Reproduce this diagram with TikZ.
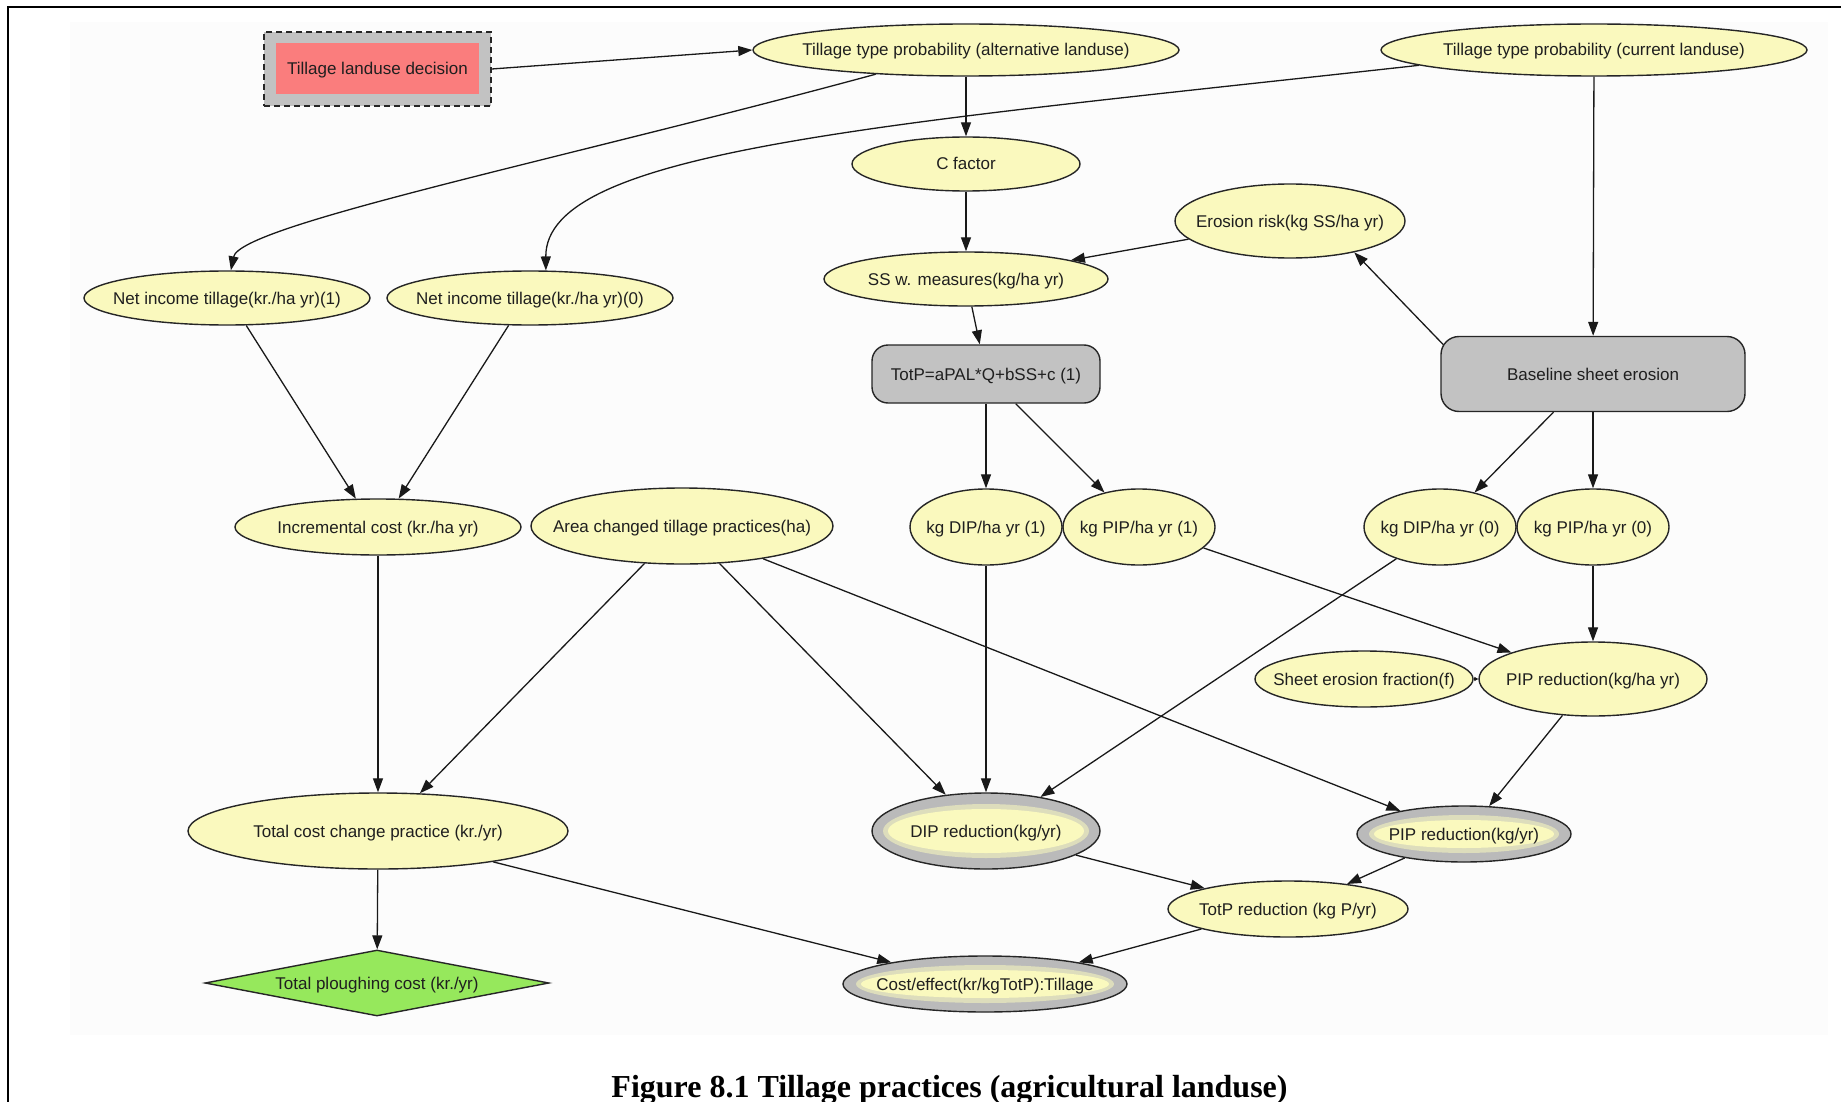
\documentclass[tikz,border=0pt]{standalone}
\usepackage{fontspec}
\setmainfont{Liberation Sans}
\newfontfamily\capfont{Liberation Serif}
\usetikzlibrary{arrows.meta,shapes.geometric,backgrounds}

\definecolor{nodeyellow}{RGB}{250,249,190}
\definecolor{boxgray}{RGB}{194,194,194}
\definecolor{ringgray}{RGB}{186,186,186}
\definecolor{decisionred}{RGB}{250,125,125}
\definecolor{utilgreen}{RGB}{150,232,92}
\definecolor{backdrop}{RGB}{252,252,252}

% zero-width label so the text never enlarges a shape
\newcommand\lab[1]{\makebox[0pt]{#1}}

\tikzset{
  lbl/.style={font=\fontsize{17}{20}\selectfont, text=black!88, text height=12pt, text depth=0pt},
  chance/.style={ellipse, draw=black!85, line width=1.4pt, fill=nodeyellow, inner sep=0pt, lbl},
  dims/.style 2 args={minimum width=#1pt, minimum height=#2pt},
  calcbox/.style={rectangle, draw=black!85, line width=1.4pt, fill=boxgray, inner sep=0pt, lbl},
  doubleoval/.style 2 args={chance, fill=ringgray,
    path picture={
      \fill[nodeyellow!55!ringgray] (path picture bounding box.center) ellipse [x radius=#1pt+5pt, y radius=#2pt+5pt];
      \fill[nodeyellow] (path picture bounding box.center) ellipse [x radius=#1pt, y radius=#2pt];}},
  link/.style={-{Triangle[length=14pt,width=10pt]}, line width=1.3pt, draw=black!90},
  tinylink/.style={-{Triangle[length=4pt,width=4pt]}, line width=1.2pt, draw=black!90},
}

\begin{document}
\begin{tikzpicture}[x=1pt, y=-1pt]
\useasboundingbox (0,0) rectangle (1841,1102);

% decision node
\node[rectangle, draw=black!85, line width=1.4pt, dash pattern=on 6pt off 4pt, fill=boxgray, dims={227}{74}] (tld) at (377.5,69) {};
\node[rectangle, fill=decisionred, inner sep=0pt, dims={203}{51}, lbl] (tldin) at (tld.center) {\lab{Tillage landuse decision}};

% chance nodes
\node[chance, dims={426}{52}] (ttpa) at (966,50) {\lab{Tillage type probability (alternative landuse)}};
\node[chance, dims={426}{52}] (ttpc) at (1594,50) {\lab{Tillage type probability (current landuse)}};
\node[chance, dims={228}{54}] (cf) at (966,164) {\lab{C factor}};
\node[chance, dims={230}{74}] (er) at (1290,221) {\lab{Erosion risk(kg SS/ha yr)}};
\node[chance, dims={284}{54}] (ss) at (966,279) {\lab{SS w. measures(kg/ha yr)}};
\node[chance, dims={286}{54}] (ni1) at (227,298) {\lab{Net income tillage(kr./ha yr)(1)}};
\node[chance, dims={286}{54}] (ni0) at (530,298) {\lab{Net income tillage(kr./ha yr)(0)}};

% calculation boxes
\node[calcbox, rounded corners=16pt, dims={228}{58}] (totp) at (986,374) {\lab{TotP=aPAL*Q+bSS+c (1)}};
\node[calcbox, rounded corners=18pt, dims={304}{75}] (base) at (1593,374) {\lab{Baseline sheet erosion}};

\node[chance, dims={286}{56}] (ic) at (378,527) {\lab{Incremental cost (kr./ha yr)}};
\node[chance, dims={302}{76}] (ac) at (682,526) {\lab{Area changed tillage practices(ha)}};
\node[chance, dims={152}{76}] (kd1) at (986,527) {\lab{kg DIP/ha yr (1)}};
\node[chance, dims={152}{76}] (kp1) at (1139,527) {\lab{kg PIP/ha yr (1)}};
\node[chance, dims={152}{76}] (kd0) at (1440,527) {\lab{kg DIP/ha yr (0)}};
\node[chance, dims={152}{76}] (kp0) at (1593,527) {\lab{kg PIP/ha yr (0)}};
\node[chance, dims={218}{56}] (sef) at (1364,679) {\lab{Sheet erosion fraction(f)}};
\node[chance, dims={228}{74}] (piph) at (1593,679) {\lab{PIP reduction(kg/ha yr)}};
\node[chance, dims={380}{76}] (tcc) at (378,831) {\lab{Total cost change practice (kr./yr)}};
\node[doubleoval={98}{22}, dims={228}{76}] (dipr) at (986,831) {\lab{DIP reduction(kg/yr)}};
\node[doubleoval={90}{14}, dims={214}{56}] (pipr) at (1464,834) {\lab{PIP reduction(kg/yr)}};
\node[chance, dims={240}{56}] (totr) at (1288,909) {\lab{TotP reduction (kg P/yr)}};
\node[doubleoval={124}{14}, dims={284}{56}] (ce) at (985,984) {\lab{Cost/effect(kr/kgTotP):Tillage}};

% utility node
\node[diamond, shape aspect=5.2, draw=black!85, line width=1.4pt, fill=utilgreen, inner sep=0pt, lbl, dims={344}{66}] (tpc) at (377,983) {\lab{Total ploughing cost (kr./yr)}};

% caption
\node[font=\capfont\bfseries\fontsize{32}{36}\selectfont, anchor=base, inner sep=0pt] (caption) at (949.5,1097) {Figure 8.1 Tillage practices (agricultural landuse)};

\begin{scope}[on background layer]
  \fill[backdrop] (70,22) rectangle (1828,1035);
  \draw[line width=2.5pt] (8,1110) -- (8,7) -- (1850,7);

  \draw[link] (tld.east) -- (ttpa.west);
  \draw[link] (ttpa.195) .. controls (560,160) and (240,225) .. (ni1.82);
  \draw[link] (ttpc.185) .. controls (880,125) and (545,150) .. (ni0.60);
  \draw[link] (ttpa) -- (cf);
  \draw[link] (cf) -- (ss);
  \draw[link] (er) -- (ss);
  \draw[link] (ss) -- (totp);
  \draw[link] (ttpc) -- (base);
  \draw[link, shorten <=-7pt] (base.168) -- (er.-26);
  \draw[link] (totp) -- (kd1);
  \draw[link] (totp.-45) -- (kp1.135);
  \draw[link] (base.224) -- (kd0.45);
  \draw[link] (base) -- (kp0);
  \draw[link] (ni1.-55) -- (ic.128);
  \draw[link] (ni0.232) -- (ic.54);
  \draw[link] (ic) -- (tcc);
  \draw[link] (ac.225) -- (tcc.42);
  \draw[link] (ac.-45) -- (dipr.138);
  \draw[link] (ac.-22) -- (pipr.160);
  \draw[link] (kd1) -- (dipr);
  \draw[link] (kd0.216) -- (dipr.32);
  \draw[link] (kp1.-18) -- (piph.162);
  \draw[link] (kp0) -- (piph);
  \draw[tinylink] (sef) -- (piph);
  \draw[link] (piph.230) -- (pipr.48);
  \draw[link] (dipr.-15) -- (totr.166);
  \draw[link] (pipr.202) -- (totr.23);
  \draw[link] (tcc.-15) -- (ce.167);
  \draw[link] (totr.193) -- (ce.13);
  \draw[link] (tcc) -- (tpc);
\end{scope}
\end{tikzpicture}
\end{document}
